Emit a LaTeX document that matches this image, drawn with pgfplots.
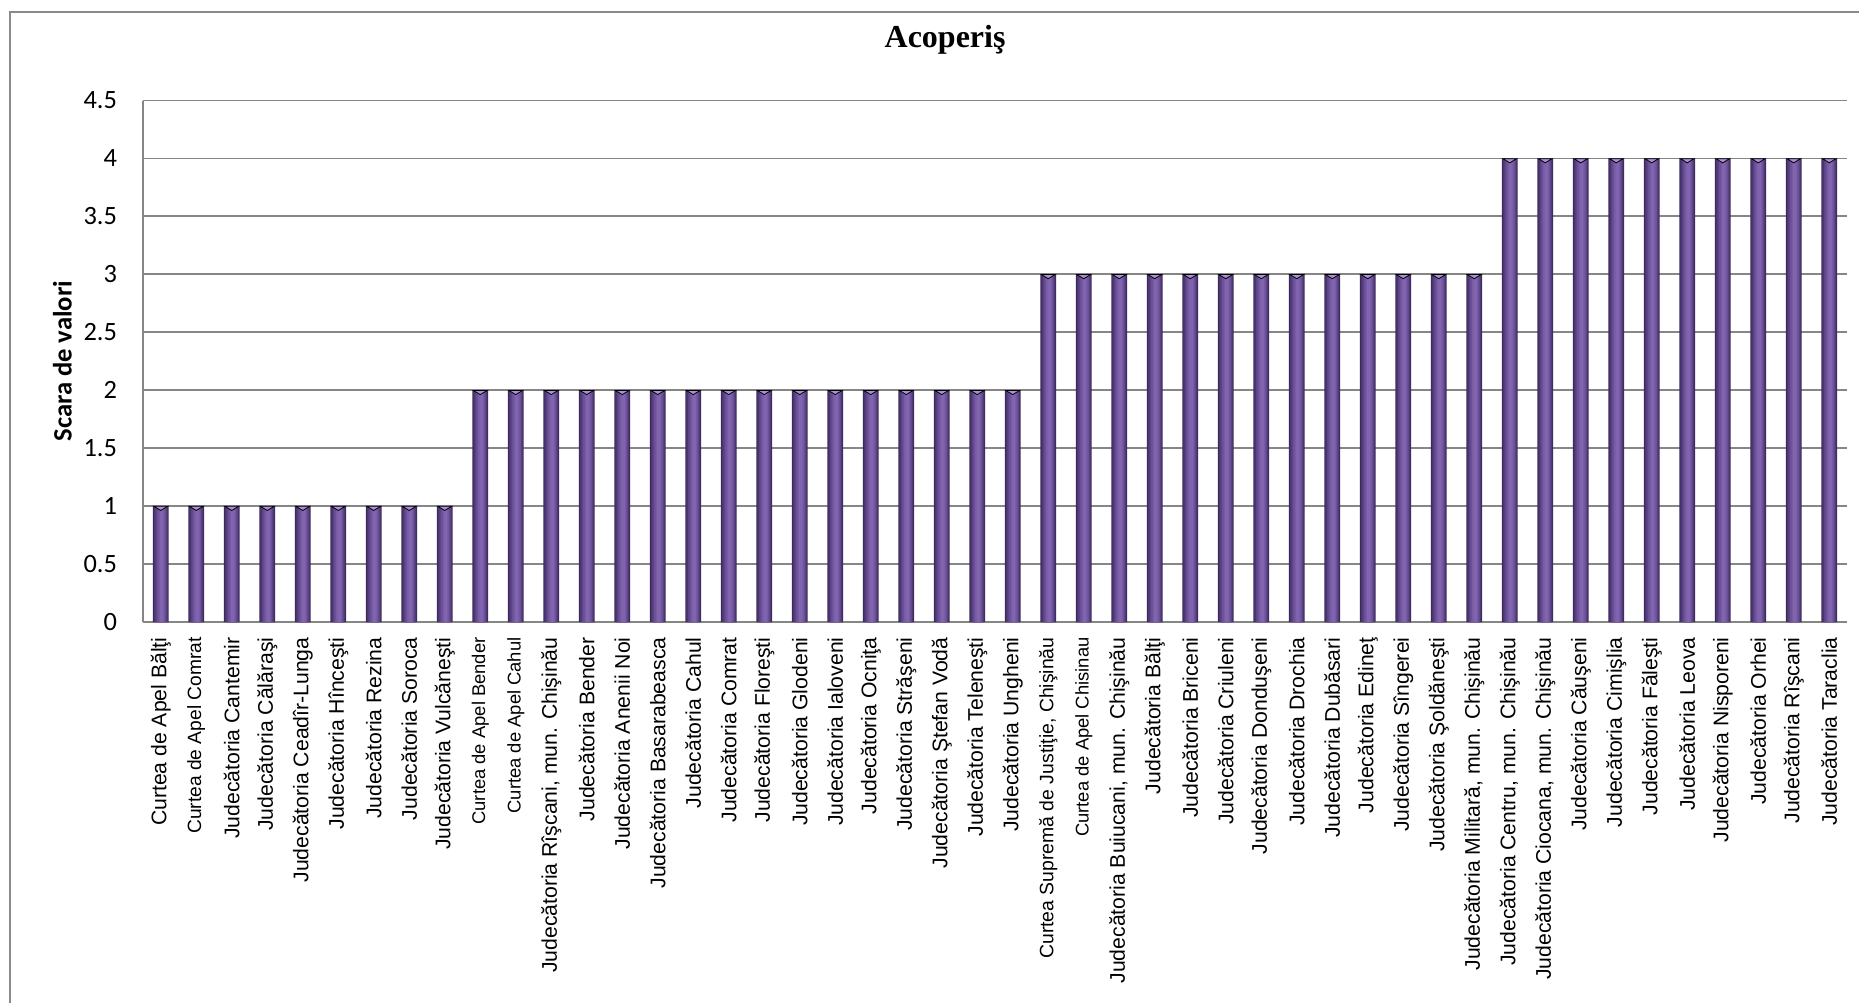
\documentclass[border=0pt]{standalone}
\usepackage{fontspec}
\usepackage{pgfplots}
\pgfplotsset{compat=1.18}
\usepackage{pgfplotstable}
\setmainfont{Liberation Sans}
\newfontfamily\calibri{Carlito}
\newfontfamily\timesf{Liberation Serif}

\definecolor{gridgray}{HTML}{868686}
\definecolor{frame}{HTML}{8A8A8A}
\definecolor{barA}{HTML}{3B2A57}
\definecolor{barB}{HTML}{4A3570}
\definecolor{barC}{HTML}{5A4385}
\definecolor{barD}{HTML}{6A5096}
\definecolor{barE}{HTML}{775BA5}
\definecolor{barF}{HTML}{8064AF}
\definecolor{capc}{HTML}{A991D2}

% index, value (scara de valori)
\pgfplotstableread{
idx val
0 1
1 1
2 1
3 1
4 1
5 1
6 1
7 1
8 1
9 2
10 2
11 2
12 2
13 2
14 2
15 2
16 2
17 2
18 2
19 2
20 2
21 2
22 2
23 2
24 2
25 3
26 3
27 3
28 3
29 3
30 3
31 3
32 3
33 3
34 3
35 3
36 3
37 3
38 4
39 4
40 4
41 4
42 4
43 4
44 4
45 4
46 4
47 4
}\acoperis

\newcommand{\sm}[1]{{\fontsize{9.2}{11}\selectfont #1}}
% one band of the cylinder shading of the bars
\newcommand{\barlayer}[3]{%
  \addplot[ybar, bar width=#1, bar shift=#2, draw=none, fill=#3]
    table[x=idx, y=val] {\acoperis};}

\begin{document}
\begin{tikzpicture}
  \useasboundingbox (-71.5pt,-190pt) rectangle (858pt,311pt);
  \draw[frame, line width=1pt] (-66.5pt,-192pt) -- (-66.5pt,305pt) -- (860pt,305pt);
  \begin{axis}[
      at={(0,0)}, anchor=south west,
      scale only axis,
      width=852pt, height=260.75pt,
      xmin=-0.5, xmax=47.5,
      ymin=0, ymax=4.5,
      ytick={0,0.5,...,4.5},
      xtick=data,
      xticklabels={
        {Curtea de Apel Bălţi},
        {\fontsize{9.6}{11}\selectfont Curtea de Apel Comrat},
        {Judecătoria Cantemir},
        {Judecătoria Călăraşi},
        {Judecătoria Ceadîr-Lunga},
        {Judecătoria Hînceşti},
        {Judecătoria Rezina},
        {Judecătoria Soroca},
        {Judecătoria Vulcăneşti},
        {\sm{Curtea de Apel Bender}},
        {\sm{Curtea de Apel Cahul}},
        {Judecătoria Rîşcani, mun. Chişinău},
        {Judecătoria Bender},
        {Judecătoria Anenii Noi},
        {Judecătoria Basarabeasca},
        {Judecătoria Cahul},
        {Judecătoria Comrat},
        {Judecătoria Floreşti},
        {Judecătoria Glodeni},
        {Judecătoria Ialoveni},
        {Judecătoria Ocniţa},
        {Judecătoria Străşeni},
        {Judecătoria Ştefan Vodă},
        {Judecătoria Teleneşti},
        {Judecătoria Ungheni},
        {\fontsize{9.7}{11}\selectfont Curtea Supremă de Justiţie, Chişinău},
        {\sm{Curtea de Apel Chisinau}},
        {Judecătoria Buiucani, mun. Chişinău},
        {Judecătoria Bălţi},
        {Judecătoria Briceni},
        {Judecătoria Criuleni},
        {Judecătoria Donduşeni},
        {Judecătoria Drochia},
        {Judecătoria Dubăsari},
        {Judecătoria Edineţ},
        {Judecătoria Sîngerei},
        {Judecătoria Şoldăneşti},
        {Judecătoria Militară, mun. Chişinău},
        {Judecătoria Centru, mun. Chişinău},
        {Judecătoria Ciocana, mun. Chişinău},
        {Judecătoria Căuşeni},
        {Judecătoria Cimişlia},
        {Judecătoria Făleşti},
        {Judecătoria Leova},
        {Judecătoria Nisporeni},
        {Judecătoria Orhei},
        {Judecătoria Rîşcani},
        {Judecătoria Taraclia}
      },
      xticklabel style={rotate=90, anchor=east, inner xsep=7.5pt,
        font=\fontsize{10.6}{12}\selectfont},
      yticklabel style={anchor=east, inner xsep=12.8pt,
        font=\calibri\fontsize{13.2}{15}\selectfont},
      /pgf/number format/assume math mode=true,
      major tick length=0pt,
      axis lines*=left,
      axis line style={draw=gridgray, line width=0.9pt, -},
      ymajorgrids,
      grid style={draw=gridgray, line width=0.9pt},
      ylabel={Scara de valori},
      ylabel style={at={(axis description cs:-0.0473,0.5)}, rotate=0, anchor=center,
        font=\calibri\bfseries\fontsize{13.3}{15}\selectfont},
      title={Acoperiş},
      title style={at={(axis description cs:0.4707,1)}, anchor=center, yshift=24.5pt,
        font=\timesf\bfseries\fontsize{16}{18}\selectfont},
    ]
    \barlayer{7.8pt}{0pt}{barA}
    \barlayer{7.0pt}{0.1pt}{barB}
    \barlayer{5.8pt}{0.2pt}{barC}
    \barlayer{4.4pt}{0.3pt}{barD}
    \barlayer{3.0pt}{0.4pt}{barE}
    \barlayer{1.6pt}{0.5pt}{barF}
    \addplot[only marks, mark=triangle*,
      mark options={draw=none, fill=capc, yshift=-0.8pt, yscale=-0.35},
      mark size=4pt]
      table[x=idx, y=val] {\acoperis};
  \end{axis}
\end{tikzpicture}
\end{document}
